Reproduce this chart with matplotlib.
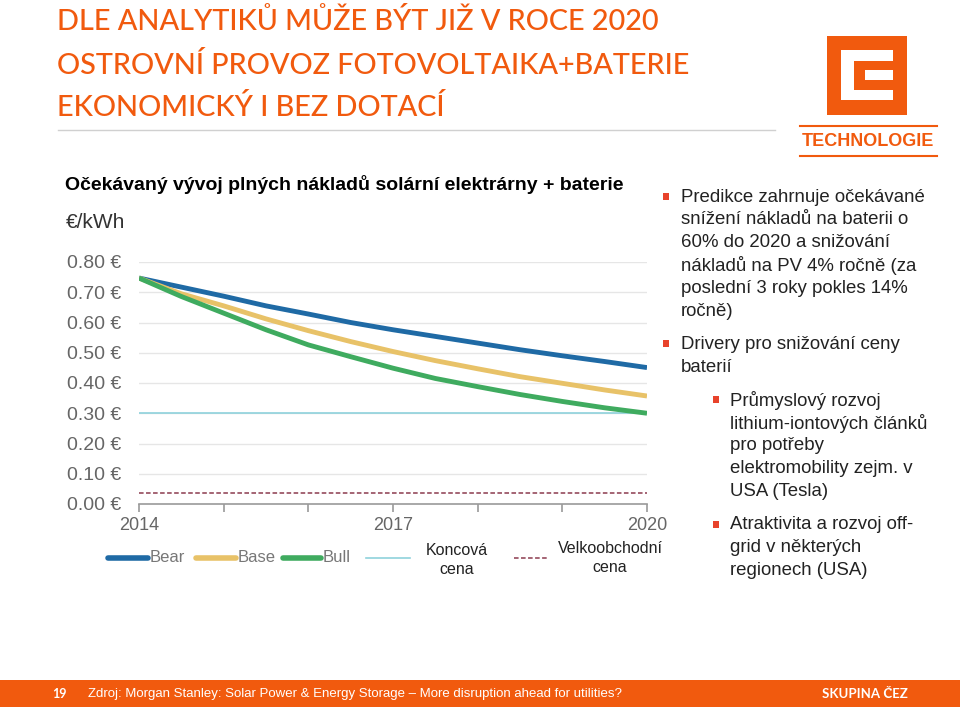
import matplotlib
matplotlib.use("Agg")
import matplotlib.pyplot as plt
import matplotlib.patches as mpatches
from matplotlib.lines import Line2D

# =========================
# DATA
# =========================

years = [2014, 2014.5, 2015, 2015.5, 2016, 2016.5, 2017, 2017.5, 2018, 2018.5, 2019, 2019.5, 2020]
bear = [0.747, 0.717, 0.687, 0.655, 0.628, 0.600, 0.576, 0.554, 0.532, 0.510, 0.490, 0.471, 0.451]
base = [0.747, 0.695, 0.655, 0.612, 0.573, 0.537, 0.504, 0.474, 0.447, 0.421, 0.399, 0.377, 0.357]
bull = [0.747, 0.686, 0.631, 0.576, 0.526, 0.487, 0.449, 0.415, 0.388, 0.362, 0.339, 0.318, 0.300]
retail_price = 0.30      # Koncová cena
wholesale_price = 0.035  # Velkoobchodní cena

series_names = ["Bear", "Base", "Bull"]
y_ticks = [0.0, 0.1, 0.2, 0.3, 0.4, 0.5, 0.6, 0.7, 0.8]
x_ticks = [2014, 2015, 2016, 2017, 2018, 2019, 2020]
x_labels = ["2014", "", "", "2017", "", "", "2020"]

title_lines = [
    "DLE ANALYTIKŮ MŮŽE BÝT JIŽ V ROCE 2020",
    "OSTROVNÍ PROVOZ FOTOVOLTAIKA+BATERIE",
    "EKONOMICKÝ I BEZ DOTACÍ",
]
chart_title = "Očekávaný vývoj plných nákladů solární elektrárny + baterie"

bullets = [
    (0, ["Predikce zahrnuje očekávané", "snížení nákladů na baterii o", "60% do 2020 a snižování",
         "nákladů na PV 4% ročně (za", "poslední 3 roky pokles 14%", "ročně)"]),
    (0, ["Drivery pro snižování ceny", "baterií"]),
    (1, ["Průmyslový rozvoj", "lithium-iontových článků", "pro potřeby",
         "elektromobility zejm. v", "USA (Tesla)"]),
    (1, ["Atraktivita a rozvoj off-", "grid v některých", "regionech (USA)"]),
]

source = "Zdroj: Morgan Stanley: Solar Power & Energy Storage – More disruption ahead for utilities?"

ORANGE = "#f15a0e"
BEAR_C = "#1f6aa5"
BASE_C = "#e8c268"
BULL_C = "#3fab5f"
RETAIL_C = "#8fd2dc"
WHOLE_C = "#8c3b4e"
TICK_C = "#666666"

W, H = 960, 707
fig = plt.figure(figsize=(9.6, 7.07), dpi=100)
fig.patch.set_facecolor("white")


def fx(x):
    return x / W


def fy(y):
    return 1 - y / H


def ptext(x, y, s, **kw):
    fig.text(fx(x), fy(y), s, **kw)


# =========================
# HEADER
# =========================

title_font = ["Lato", "DejaVu Sans"]
for i, line in enumerate(title_lines):
    ptext(57, [22, 66, 107][i], line, fontsize=20.8, color=ORANGE, family=title_font,
          fontweight="medium", va="center", ha="left")

fig.add_artist(Line2D([fx(58), fx(775)], [fy(130), fy(130)], color="#d0d0d0", lw=1))

# logo
fig.add_artist(mpatches.Rectangle((fx(827), fy(115)), fx(80), 79 / H, color=ORANGE, lw=0))
fig.add_artist(mpatches.Rectangle((fx(841), fy(100)), fx(52), 50 / H, color="white", lw=0))
fig.add_artist(mpatches.Rectangle((fx(854), fy(90)), fx(39), 29 / H, color=ORANGE, lw=0))
fig.add_artist(mpatches.Rectangle((fx(865), fy(80)), fx(28), 10 / H, color="white", lw=0))

fig.add_artist(Line2D([fx(800), fx(937)], [fy(126), fy(126)], color=ORANGE, lw=1.5))
fig.add_artist(Line2D([fx(800), fx(937)], [fy(156), fy(156)], color=ORANGE, lw=1.5))
ptext(868, 142, "TECHNOLOGIE", fontsize=13, color=ORANGE, fontweight="bold",
      family=["Liberation Sans", "DejaVu Sans"], ha="center", va="center")

# =========================
# CHART
# =========================

body_font = ["Liberation Sans", "DejaVu Sans"]
ptext(65, 184, chart_title, fontsize=14, fontweight="bold", family=body_font, va="center")
ptext(66, 222, "€/kWh", fontsize=15, color="#333333", family=body_font, va="center")

ax = fig.add_axes([fx(139), fy(504), fx(647) - fx(139), (504 - 262) / H])
ax.set_xlim(2014, 2020)
ax.set_ylim(0, 0.8)

for v in y_ticks[1:]:
    ax.axhline(v, color="#e6e6e6", lw=1, zorder=0)

ax.axhline(retail_price, color=RETAIL_C, lw=1.2, zorder=2)
ax.axhline(wholesale_price, color=WHOLE_C, lw=1.1, ls=(0, (3, 1.6)), zorder=2)

for vals, color in zip([bear, base, bull], [BEAR_C, BASE_C, BULL_C]):
    ax.plot(years, vals, color=color, lw=3.5, solid_capstyle="butt", zorder=3)

for s in ["top", "right", "left"]:
    ax.spines[s].set_visible(False)
ax.spines["bottom"].set_color("#9a9a9a")
ax.spines["bottom"].set_linewidth(1.2)

ax.set_yticks(y_ticks)
ax.set_yticklabels([f"{v:.2f} €" for v in y_ticks])
ax.tick_params(axis="y", length=0, pad=13, labelsize=14, labelcolor=TICK_C)
ax.set_xticks(x_ticks)
ax.set_xticklabels(x_labels)
ax.tick_params(axis="x", direction="out", length=6, width=1.2, color="#9a9a9a",
               pad=3, labelsize=13, labelcolor=TICK_C)
for lab in ax.get_xticklabels() + ax.get_yticklabels():
    lab.set_family(body_font)

# legend (drawn by hand to mimic the source layout)
leg_y = 558
for (x0, x1, tx), name, color in zip([(108, 148, 150), (196, 236, 238), (283, 321, 323)],
                                       series_names, [BEAR_C, BASE_C, BULL_C]):
    fig.add_artist(Line2D([fx(x0), fx(x1)], [fy(leg_y), fy(leg_y)], color=color, lw=4,
                          solid_capstyle="round"))
    ptext(tx, leg_y, name, fontsize=12, color="#777777", family=body_font, va="center")

fig.add_artist(Line2D([fx(366), fx(410)], [fy(leg_y), fy(leg_y)], color=RETAIL_C, lw=1.2))
ptext(457, 560, "Koncová\ncena", fontsize=11.5, color="#222222", family=body_font,
      ha="center", va="center", linespacing=1.3)
fig.add_artist(Line2D([fx(514), fx(548)], [fy(leg_y), fy(leg_y)], color=WHOLE_C, lw=1.1,
                      ls=(0, (3, 1.6))))
ptext(610, 558, "Velkoobchodní\ncena", fontsize=11.5, color="#222222", family=body_font,
      ha="center", va="center", linespacing=1.3)

# =========================
# BULLETS
# =========================

line_h = 22.8
y = 197
for level, lines in bullets:
    mx = 666 if level == 0 else 716
    tx = 681 if level == 0 else 730
    fig.add_artist(mpatches.Rectangle((fx(mx - 3), fy(y - 4) - 7 / H), 6 / W, 7 / H,
                                      color="#e8432b", lw=0))
    for ln in lines:
        ptext(tx, y, ln, fontsize=13.4, color="#222222", family=body_font, va="center")
        y += line_h
    y += 10.4

# =========================
# FOOTER
# =========================

fig.add_artist(mpatches.Rectangle((0, 0), 1, 27 / H, color=ORANGE, lw=0))
ptext(52, 694, "19", fontsize=9, color="white", family=["Lato", "DejaVu Sans"],
      va="center", fontweight="bold")
ptext(88, 694, source, fontsize=9.5, color="white", family=body_font, va="center")
ptext(908, 694, "SKUPINA ČEZ", fontsize=9.5, color="white",
      family=["Lato", "DejaVu Sans"], va="center", ha="right", fontweight="bold")

fig.savefig("out.png", dpi=100)
